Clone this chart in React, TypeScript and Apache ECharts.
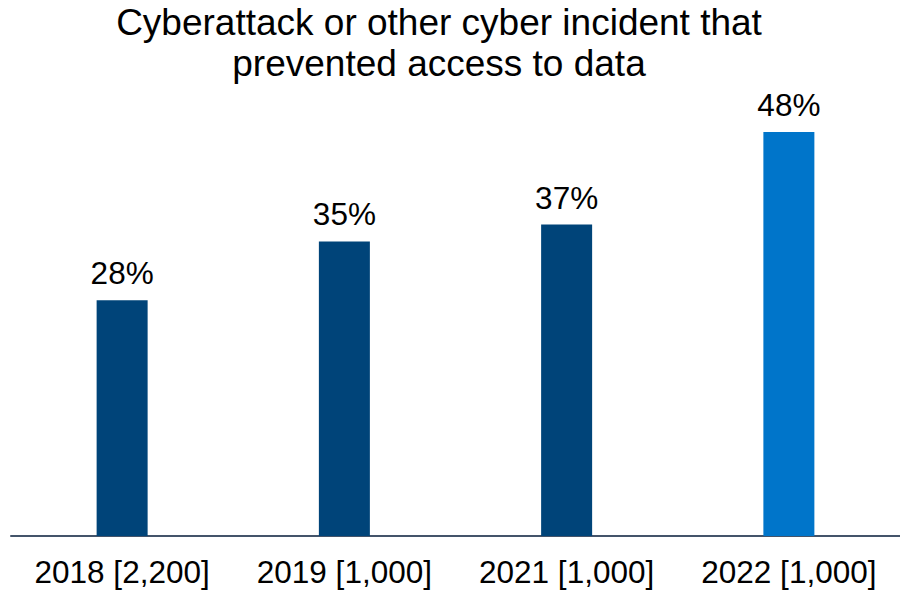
import React, { useEffect, useRef } from "react";
import * as echarts from "echarts";

const categories = ["2018 [2,200]", "2019 [1,000]", "2021 [1,000]", "2022 [1,000]"];
const values = [28, 35, 37, 48];
const barColors = ["#004479", "#004479", "#004479", "#0075CA"];
const titleText = "Cyberattack or other cyber incident that\nprevented access to data";

export default function App() {
  const ref = useRef<HTMLDivElement>(null);
  useEffect(() => {
    if (!ref.current) return;
    const chart = echarts.init(ref.current, null, { renderer: "svg" });
    const font = "'Liberation Sans', Arial, sans-serif";
    chart.setOption({
      animation: false,
      backgroundColor: "#ffffff",
      title: {
        text: titleText,
        left: 434,
        top: -3,
        textAlign: "center",
        textStyle: {
          fontFamily: font,
          fontSize: 37,
          fontWeight: "normal",
          color: "#000000",
          lineHeight: 41,
        },
      },
      grid: { left: 11, width: 903, top: 31, bottom: 55, containLabel: false },
      xAxis: {
        type: "category",
        data: categories,
        axisLine: { show: true, lineStyle: { color: "#44546A", width: 2 } },
        axisTick: { show: false },
        axisLabel: {
          fontFamily: font,
          fontSize: 31.5,
          color: "#000000",
          margin: 20,
          interval: 0,
        },
      },
      yAxis: {
        type: "value",
        min: 0,
        max: 60,
        show: false,
        splitLine: { show: false },
      },
      series: [
        {
          type: "bar",
          barWidth: 51,
          data: values.map((v, i) => ({ value: v, itemStyle: { color: barColors[i] } })),
          label: {
            show: true,
            position: "top",
            distance: 11,
            formatter: "{c}%",
            fontFamily: font,
            fontSize: 31.5,
            color: "#000000",
          },
        },
      ],
    });
    return () => chart.dispose();
  }, []);
  return <div ref={ref} style={{ width: 900, height: 591, position: "absolute", left: 0, top: 0 }} />;
}
